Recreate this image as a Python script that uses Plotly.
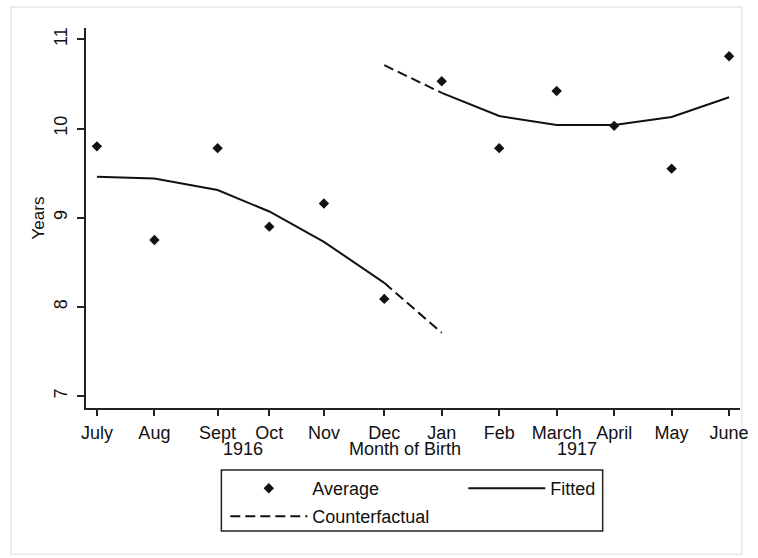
import plotly.graph_objects as go

# Month-of-birth positions on the x axis and their labels
month_pos = [0, 1, 2.1, 3, 3.95, 5, 6, 7, 8, 9, 10, 11]
month_labels = ["July", "Aug", "Sept", "Oct", "Nov", "Dec",
                "Jan", "Feb", "March", "April", "May", "June"]

# Average years by month of birth
average = [9.80, 8.75, 9.78, 8.90, 9.16, 8.09, 10.53, 9.78, 10.42, 10.03, 9.55, 10.81]

# Fitted values, 1916 cohort (July-Dec) and 1917 cohort (Jan-June)
fit_1916_x = [0, 1, 2.1, 3, 3.95, 5]
fit_1916_y = [9.46, 9.44, 9.31, 9.07, 8.73, 8.27]
fit_1917_x = [6, 7, 8, 9, 10, 11]
fit_1917_y = [10.40, 10.14, 10.04, 10.04, 10.13, 10.35]

# Counterfactual extensions across the Dec/Jan cutoff
cf_1916_x = [5, 6]
cf_1916_y = [8.27, 7.71]
cf_1917_x = [5, 6]
cf_1917_y = [10.71, 10.40]

year_labels = [("1916", 2.54), ("1917", 8.35)]
y_ticks = [7, 8, 9, 10, 11]

FONT = "Liberation Sans, Arial, sans-serif"
INK = "#111111"
DASH = "10px,5px"

fig = go.Figure()
fig.add_trace(go.Scatter(
    x=month_pos, y=average, mode="markers", name="Average",
    marker=dict(symbol="diamond", size=8, color=INK),
    legend="legend", legendwidth=146,
))
fig.add_trace(go.Scatter(
    x=fit_1916_x, y=fit_1916_y, mode="lines", name="Fitted",
    line=dict(color=INK, width=2), legendgroup="fit", legend="legend",
))
fig.add_trace(go.Scatter(
    x=fit_1917_x, y=fit_1917_y, mode="lines", name="Fitted",
    line=dict(color=INK, width=2), legendgroup="fit", showlegend=False,
))
fig.add_trace(go.Scatter(
    x=cf_1916_x, y=cf_1916_y, mode="lines", name="Counterfactual",
    line=dict(color=INK, width=2, dash=DASH), legendgroup="cf", legend="legend2",
))
fig.add_trace(go.Scatter(
    x=cf_1917_x, y=cf_1917_y, mode="lines", name="Counterfactual",
    line=dict(color=INK, width=2, dash=DASH), legendgroup="cf",
    showlegend=False, legend="legend2",
))

# Year labels under the month ticks, plus the axis caption
for text, xpos in year_labels:
    fig.add_annotation(x=xpos, y=-0.108, xref="x", yref="paper", text=text,
                       showarrow=False, yanchor="middle",
                       font=dict(family=FONT, size=18, color=INK))
fig.add_annotation(x=5.36, y=-0.108, xref="x", yref="paper", text="Month of Birth",
                   showarrow=False, yanchor="middle",
                   font=dict(family=FONT, size=18, color=INK))

# Faint outer frame and the legend box
fig.add_shape(type="rect", xref="paper", yref="paper",
              x0=-0.1148, x1=1.003, y0=-0.385, y1=1.055,
              line=dict(color="#e4e8ea", width=1.5), layer="below")
fig.add_shape(type="rect", xref="paper", yref="paper",
              x0=0.207, x1=0.790, y0=-0.3237, y1=-0.1632,
              line=dict(color="#222222", width=1.5))

legend_common = dict(
    orientation="h", xanchor="left", yanchor="top",
    itemwidth=77, bgcolor="rgba(0,0,0,0)", borderwidth=0,
    font=dict(family=FONT, size=18, color=INK),
    itemclick=False, itemdoubleclick=False,
)

fig.update_layout(
    width=758, height=558,
    margin=dict(l=86, r=10, t=28, b=150),
    paper_bgcolor="white", plot_bgcolor="white",
    font=dict(family=FONT, size=18, color=INK),
    showlegend=True,
    legend=dict(x=0.213, y=-0.1632, **legend_common),
    legend2=dict(x=0.213, y=-0.237, **legend_common),
    xaxis=dict(
        range=[-0.19, 11.19], tickmode="array", tickvals=month_pos,
        ticktext=month_labels, ticks="outside", ticklen=6, tickwidth=1.5,
        tickcolor="#222222", showline=True, linecolor="#222222", linewidth=1.5,
        showgrid=False, zeroline=False, ticklabelstandoff=2,
        tickfont=dict(family=FONT, size=18, color=INK),
    ),
    yaxis=dict(
        range=[6.867, 11.127], tickmode="array", tickvals=y_ticks,
        ticks="outside", ticklen=7, tickwidth=1.5, tickcolor="#222222",
        tickangle=-90, showline=True, linecolor="#222222", linewidth=1.5,
        showgrid=False, zeroline=False, ticklabelstandoff=3,
        tickfont=dict(family=FONT, size=18, color=INK),
        title=dict(text="Years", standoff=2, font=dict(family=FONT, size=17, color=INK)),
    ),
)

fig.write_html("out.html")
